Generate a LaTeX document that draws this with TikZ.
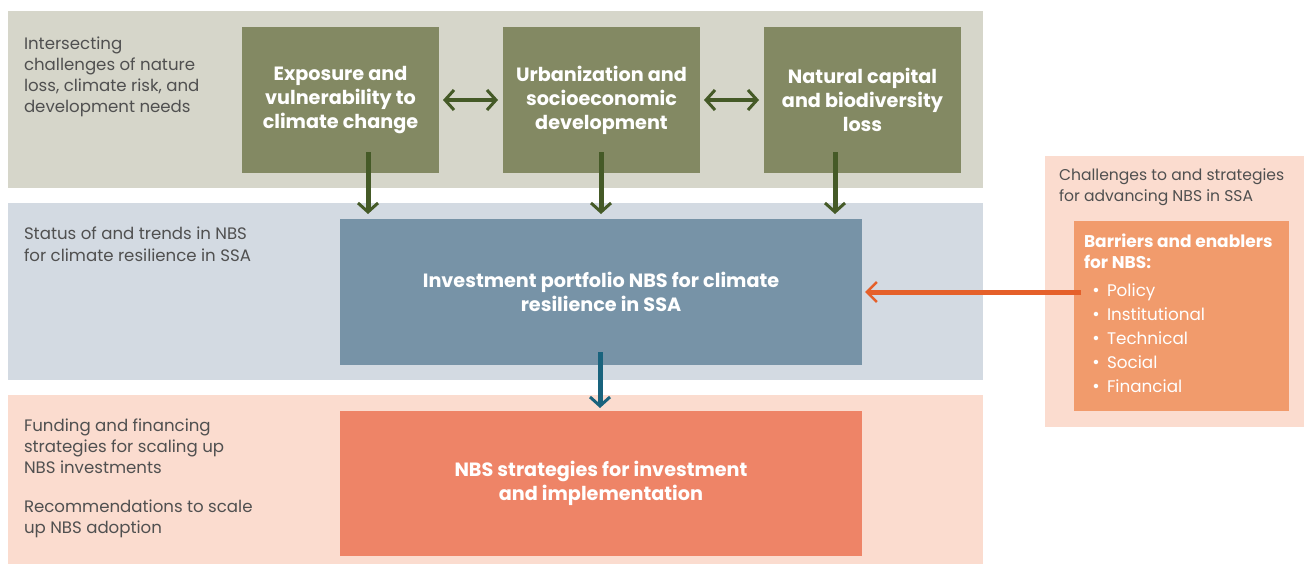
\documentclass[tikz,border=0pt]{standalone}
\usepackage{fontspec}
\setmainfont{Poppins}
\usetikzlibrary{arrows.meta,calc}
\definecolor{bandgrey}{HTML}{D6D6CA}
\definecolor{boxgreen}{HTML}{838963}
\definecolor{arrgreen}{HTML}{455A27}
\definecolor{bandblue}{HTML}{D3DAE2}
\definecolor{boxblue}{HTML}{7793A7}
\definecolor{arrblue}{HTML}{19637D}
\definecolor{bandpink}{HTML}{FBDCCF}
\definecolor{boxsalmon}{HTML}{EE8467}
\definecolor{boxorange}{HTML}{F19B6C}
\definecolor{arrorange}{HTML}{E5602A}
\definecolor{txtgrey}{HTML}{505050}
\newcommand{\bulletitem}[1]{\makebox[22pt][c]{\fontsize{18}{18}\selectfont\textbullet}#1}
\begin{document}
\begin{tikzpicture}[x=1pt,y=1pt,
  band/.style={fill=#1,draw=none,inner sep=0pt,outer sep=0pt},
  mainbox/.style={fill=#1,draw=none,inner sep=0pt,outer sep=0pt,text=white,align=center,
    font={\bfseries\fontsize{19.2}{24}\selectfont}},
  lbl/.style={anchor=north west,inner sep=0pt,outer sep=0pt,align=left,text=txtgrey,
    font={\fontsize{16.6}{21}\selectfont}},
  garrow/.style={draw=arrgreen,line width=5pt,-{Straight Barb[length=9pt,width=20pt,line width=3pt]}},
  gdarrow/.style={draw=arrgreen,line width=4pt,{Straight Barb[length=9pt,width=20pt,line width=3pt]}-{Straight Barb[length=9pt,width=20pt,line width=3pt]}},
  barrow/.style={draw=arrblue,line width=5pt,-{Straight Barb[length=9pt,width=20pt,line width=3pt]}},
  oarrow/.style={draw=arrorange,line width=5pt,-{Straight Barb[length=10pt,width=20pt,line width=2.5pt]}}
]
\useasboundingbox (0,0) rectangle (1304,-565);
% bands
\node[band=bandgrey,minimum width=975pt,minimum height=177pt] (bandA) at (495.5,-99.5) {};
\node[band=bandblue,minimum width=975pt,minimum height=177pt] (bandB) at (495.5,-291.5) {};
\node[band=bandpink,minimum width=975pt,minimum height=169pt] (bandC) at (495.5,-479.5) {};
\node[band=bandpink,minimum width=259pt,minimum height=271pt] (panel) at (1174.5,-291.5) {};
\node[band=boxorange,minimum width=215pt,minimum height=190pt] (inner) at (1181.5,-316) {};
% main boxes
\node[mainbox=boxgreen,minimum width=197pt,minimum height=146pt] (g1) at (340.5,-100) {Exposure and\\vulnerability to\\climate change};
\node[mainbox=boxgreen,minimum width=197pt,minimum height=146pt] (g2) at (601.5,-100) {Urbanization and\\socioeconomic\\development};
\node[mainbox=boxgreen,minimum width=197pt,minimum height=146pt] (g3) at (862.5,-100) {Natural capital\\and biodiversity\\loss};
\node[mainbox=boxblue,minimum width=522pt,minimum height=146pt] (blue) at (601,-292) {Investment portfolio NBS for climate\\resilience in SSA};
\node[mainbox=boxsalmon,minimum width=522pt,minimum height=145pt] (salmon) at (601,-483.5) {NBS strategies for investment\\and implementation};
% labels
\node[lbl] (t1) at (24,-37) {Intersecting\\challenges of nature\\loss, climate risk, and\\development needs};
\node[lbl,font={\fontsize{16.6}{22}\selectfont}] (t2) at (24,-227) {Status of and trends in NBS\\for climate resilience in SSA};
\node[lbl] (t3) at (24,-419) {Funding and financing\\strategies for scaling up\\NBS investments};
\node[lbl,font={\fontsize{16.6}{20.5}\selectfont}] (t4) at (24,-500) {Recommendations to scale\\up NBS adoption};
\node[lbl,font={\fontsize{15.6}{21}\selectfont}] (t5) at (1059,-169) {Challenges to and strategies\\for advancing NBS in SSA};
\node[lbl,text=white,font={\bfseries\fontsize{17}{20.5}\selectfont}] (t6) at (1084,-234) {Barriers and enablers\\for NBS:};
\node[lbl,text=white,font={\fontsize{16.8}{24}\selectfont}] (t7) at (1085,-284) {%
\bulletitem{Policy}\\
\bulletitem{Institutional}\\
\bulletitem{Technical}\\
\bulletitem{Social}\\
\bulletitem{Financial}};
% connectors
\draw[gdarrow] ([xshift=4pt]g1.east) -- ([xshift=-5pt]g2.west);
\draw[gdarrow] ([xshift=4pt]g2.east) -- ([xshift=-5pt]g3.west);
\draw[garrow] ([xshift=27.5pt,yshift=21pt]g1.south) -- ([xshift=27.5pt,yshift=-41pt]g1.south);
\draw[garrow] ([xshift=-0.5pt,yshift=21pt]g2.south) -- ([xshift=-0.5pt,yshift=-41pt]g2.south);
\draw[garrow] ([xshift=-27.5pt,yshift=21pt]g3.south) -- ([xshift=-27.5pt,yshift=-41pt]g3.south);
\draw[barrow] ([xshift=-1pt,yshift=13pt]blue.south) -- ([xshift=-1pt,yshift=3pt]salmon.north);
\draw[oarrow] ([xshift=7pt]inner.west |- blue.east) -- ([xshift=3pt]blue.east);
\end{tikzpicture}
\end{document}
